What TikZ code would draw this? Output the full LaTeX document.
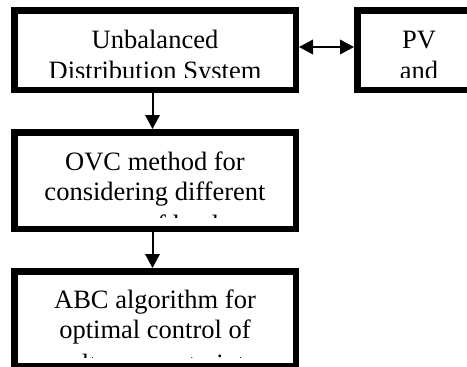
\documentclass[tikz,border=0pt]{standalone}
\usepackage{fontspec}
\setmainfont{Liberation Serif}
\usetikzlibrary{arrows.meta}
\begin{document}
\begin{tikzpicture}[x=1pt,y=-1pt,
  blockbox/.style={draw=black, line width=6.5pt, fill=white, rectangle, inner sep=0pt},
  lbl/.style={anchor=base, inner sep=0pt, font=\fontsize{26.5}{30.5}\selectfont},
  link/.style={line width=2pt, -{Triangle[length=14pt,width=14.5pt]}},
  dlink/.style={line width=2pt, {Triangle[length=14pt,width=14.5pt]}-{Triangle[length=14pt,width=14.5pt]}}]
\useasboundingbox (0,0) rectangle (467,367);
\clip (0,0) rectangle (467,367);
\fill[white] (0,0) rectangle (467,367);

% frames
\node[blockbox, minimum width=281.5pt, minimum height=79.5pt] (sys) at (155,50) {};
\node[blockbox, minimum width=123.5pt, minimum height=79.5pt] (pv)  at (419,50) {};
\node[blockbox, minimum width=281.5pt, minimum height=96.5pt] (ovc) at (155,180.5) {};
\node[blockbox, minimum width=281.5pt, minimum height=95pt]   (abc) at (155,318.75) {};

% texts, cut at the bottom of each text area
\begin{scope}
  \clip (17,14) rectangle (293,77.5);
  \node[lbl] (sysA) at (155,48) {Unbalanced};
  \node[lbl] (sysB) at (155,79.5) {Distribution System};
\end{scope}
\begin{scope}
  \clip (361,14) rectangle (467,77.5);
  \node[lbl] (pvA) at (419,48) {PV};
  \node[lbl] (pvB) at (419,79.5) {and};
\end{scope}
\begin{scope}
  \clip (17,135) rectangle (293,217.5);
  \node[lbl] (ovcA) at (155,170) {OVC method for};
  \node[lbl] (ovcB) at (155,200) {considering different};
  \node[lbl] (ovcC) at (155,233) {types of loads};
\end{scope}
\begin{scope}
  \clip (17,274) rectangle (293,357.5);
  \node[lbl] (abcA) at (155,308) {ABC algorithm for};
  \node[lbl] (abcB) at (155,338) {optimal control of};
  \node[lbl] (abcC) at (155,372) {voltage constraints};
\end{scope}

% connectors
\draw[dlink] ([yshift=3pt]sys.east) -- ([yshift=3pt]pv.west);
\draw[link] ([xshift=-2.5pt]sys.south) -- ([xshift=-2.5pt]ovc.north);
\draw[link] ([xshift=-2.5pt]ovc.south) -- ([xshift=-2.5pt]abc.north);
\end{tikzpicture}
\end{document}
